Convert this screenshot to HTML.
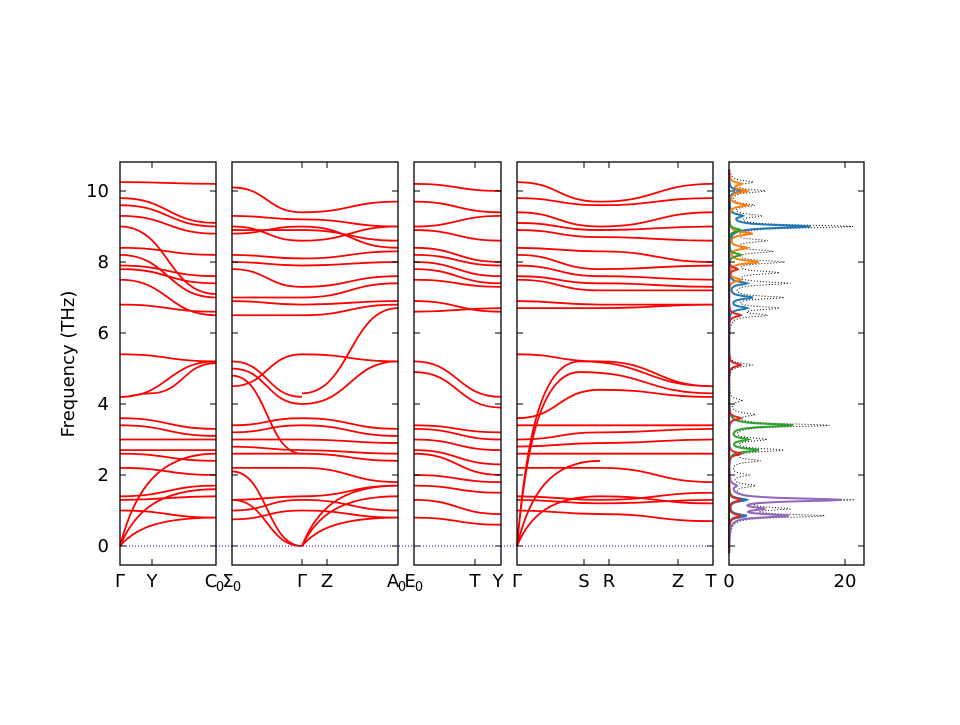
<!DOCTYPE html>
<html><head><meta charset="utf-8"><style>
body{margin:0;background:#fff;}
svg text{font-family:"DejaVu Sans","Liberation Sans",sans-serif;font-size:18px;fill:#000;}
</style></head><body>
<svg id="s" width="960" height="720" xmlns="http://www.w3.org/2000/svg">
<rect width="960" height="720" fill="#fff"/>
<g id="bands"></g>
<g id="dos"></g>
<g id="frames" fill="none" stroke="#000" stroke-width="1.3">
<rect x="120" y="162" width="96" height="403"/>
<rect x="232" y="162" width="166" height="403"/>
<rect x="414" y="162" width="87" height="403"/>
<rect x="517" y="162" width="196" height="403"/>
<rect x="729" y="162" width="135" height="403"/>
</g>
<g id="ticks" stroke="#000" stroke-width="1"></g>
<g text-anchor="end">
<text x="109" y="552">0</text><text x="109" y="481">2</text><text x="109" y="410">4</text>
<text x="109" y="339">6</text><text x="109" y="268">8</text><text x="109" y="197">10</text>
</g>
<text transform="translate(74,364) rotate(-90)" text-anchor="middle">Frequency (THz)</text>
<g text-anchor="middle">
<text x="120" y="587">Γ</text><text x="152" y="587">Y</text><text x="211" y="587">C</text><text x="220" y="591" style="font-size:13px">0</text>
<text x="228" y="587">Σ</text><text x="237" y="591" style="font-size:13px">0</text>
<text x="302" y="587">Γ</text><text x="327" y="587">Z</text><text x="393" y="587">A</text><text x="402" y="591" style="font-size:13px">0</text>
<text x="410" y="587">E</text><text x="419" y="591" style="font-size:13px">0</text>
<text x="475" y="587">T</text><text x="498" y="587">Y</text>
<text x="517" y="587">Γ</text><text x="584" y="587">S</text><text x="609" y="587">R</text><text x="678" y="587">Z</text><text x="711" y="587">T</text>
<text x="729" y="587">0</text><text x="845" y="587">20</text>
</g>
</svg>
<script>
const NS="http://www.w3.org/2000/svg";
const Y=f=>546-35.5*f;
function el(p,n,a){const e=document.createElementNS(NS,n);for(const k in a)e.setAttribute(k,a[k]);p.appendChild(e);return e;}
const B=document.getElementById('bands');
function seg(x0,x1,a,b,shape){
  let d;
  if(shape==='ac'){ // acoustic sqrt-like rise
    d=`M${x0} ${Y(a)} C${x0+(x1-x0)*0.15} ${Y(b*0.6)},${x0+(x1-x0)*0.4} ${Y(b)},${x1} ${Y(b)}`;
  }else{
    const m=(x1-x0)/2;
    d=`M${x0} ${Y(a)} C${x0+m} ${Y(a)},${x1-m} ${Y(b)},${x1} ${Y(b)}`;
  }
  el(B,'path',{d,fill:'none',stroke:'#f00','stroke-width':1.8});
}
// panel definitions: [x0,x1,pairs]
const common=[10.25,9.8,9.6,9.3,9.0,8.4,8.2,7.9,7.8,7.5,6.8,5.4,3.6,3.4,3.0,2.7,2.6,2.2,1.4,1.3,1.0];
const p1e=[10.2,9.1,9.0,8.8,7.1,8.2,7.0,7.6,7.4,6.5,6.6,5.2,3.3,3.1,3.0,2.7,2.4,2.0,1.7,1.4,0.8];
common.forEach((f,i)=>seg(120,216,f,p1e[i]));
seg(120,216,4.2,5.2);seg(120,150,4.2,4.3);seg(150,216,4.3,5.15);
seg(120,216,0,2.6,'ac');seg(120,216,0,1.6,'ac');seg(120,216,0,0.8,'ac');
// panel2 left Σ0->Γ(302) and Γ->A0
const p2a=[10.1,9.3,9.0,8.9,8.8,8.2,8.0,7.8,7.0,6.9,6.5,4.5,3.4,3.2,3.0,2.8,2.6,2.2,1.3,1.0,0.75];
const p2g=[9.4,9.2,8.6,8.9,9.0,8.1,7.9,7.3,7.0,6.8,6.5,5.4,3.6,3.4,3.0,2.7,2.6,2.2,1.4,1.3,1.0];
p2a.forEach((f,i)=>seg(232,302,f,p2g[i]));
seg(232,302,5.2,4.2);seg(232,302,5.0,4.0);seg(232,302,4.8,2.6);seg(232,302,2.1,0,'x');seg(232,302,1.3,0);
const p2e=[9.7,9.0,9.0,8.6,8.4,8.3,8.0,7.6,7.4,6.9,6.8,5.2,3.3,3.1,2.9,2.6,2.4,1.8,1.7,1.0,0.8];
p2g.forEach((f,i)=>seg(302,398,f,p2e[i]));
seg(302,398,4.0,5.2);seg(302,398,4.3,6.7);seg(302,398,0,1.7,'ac');seg(302,398,0,1.4,'ac');seg(302,398,0,0.8,'ac');
// panel3
const p3a=[10.2,9.7,9.0,8.9,8.4,8.2,8.0,7.8,7.5,6.9,6.6,5.2,4.9,3.4,3.3,3.0,2.7,2.6,2.0,1.7,1.3,0.8];
const p3b=[10.0,9.4,9.3,8.6,8.0,7.9,7.6,7.4,7.3,6.6,6.7,4.2,3.9,3.2,3.0,2.7,2.3,2.0,1.8,1.5,0.9,0.6];
p3a.forEach((f,i)=>seg(414,501,f,p3b[i]));
// panel4
const p4a=[10.25,9.8,9.4,9.1,8.9,8.4,8.2,7.9,7.6,7.5,6.9,6.7,5.4,3.6,3.4,3.0,2.8,2.6,2.2,1.4,1.3,1.0];
const p4s=[9.7,9.6,9.0,8.9,8.7,8.3,7.8,7.6,7.4,7.2,6.8,6.7,5.2,4.4,3.4,3.2,2.9,2.6,2.2,1.3,1.2,0.9];
const p4e=[10.2,9.8,9.4,9.0,8.6,8.0,7.9,7.5,7.3,7.2,6.8,6.8,4.5,4.2,3.4,3.3,3.0,2.6,1.8,1.5,1.3,0.7];
p4a.forEach((f,i)=>{seg(517,600,f,p4s[i]);seg(600,713,p4s[i],p4e[i]);});
seg(517,580,0,5.2,'ac');seg(580,713,5.2,4.5);seg(517,580,0,4.9,'ac');seg(580,713,4.9,4.3);
seg(517,600,0,2.4,'ac');seg(517,600,0,1.4,'ac');seg(600,713,1.4,1.2);
// zero line
el(B,'line',{x1:120,x2:713,y1:546,y2:546,stroke:'#00f','stroke-width':1,'stroke-dasharray':'1,2'});
// DOS
const D=document.getElementById('dos');
function curve(peaks,scale,color,w,dash){
  let d='';
  for(let f=-0.2;f<=10.6;f+=0.02){
    let v=0;for(const [c,h,g] of peaks)v+=h*g*g/((f-c)*(f-c)+g*g);
    const x=729+5.8*v*scale;d+=(d?'L':'M')+x.toFixed(1)+' '+Y(f).toFixed(1);
  }
  el(D,'path',{d,fill:'none',stroke:color,'stroke-width':w,'stroke-dasharray':dash||''});
}
const gam=0.05;
const total=[[0.85,16,gam],[1.05,9,gam],[1.3,21,gam],[1.7,4,gam],[2.0,3,gam],[2.4,5,gam],[2.7,9,gam],[3.0,6,gam],[3.4,17,gam],[3.7,4,gam],[4.1,2,gam],[5.1,4,gam],[6.5,6,gam],[6.7,8,gam],[7.0,9,gam],[7.4,10,gam],[7.7,8,gam],[8.0,9,gam],[8.3,7,gam],[8.6,6,gam],[9.0,21,gam],[9.3,5,gam],[9.6,4,gam],[10.0,6,gam],[10.25,4,gam]];
curve(total,1,'#000',1,'1,2');
curve([[0.85,3,gam],[1.3,3,gam],[6.7,3,gam],[7.0,4,gam],[7.4,3,gam],[9.0,14,gam],[9.3,2,gam],[10.0,2,gam]],1,'#1f77b4',2);
curve([[8.0,5,gam],[8.4,3,gam],[8.8,4,gam],[9.6,3,gam],[10.0,3,gam],[10.2,2,gam],[7.5,2,gam]],1,'#ff7f0e',2);
curve([[2.7,5,gam],[3.0,3,gam],[3.4,11,gam],[8.2,2,gam],[8.9,2,gam]],1,'#2ca02c',2);
curve([[0.85,2,gam],[1.3,2,gam],[2.6,2,gam],[3.6,2,gam],[5.1,2,gam],[6.5,2,gam],[7.8,1.5,gam]],1,'#d62728',2);
curve([[0.85,10,gam],[1.05,5,gam],[1.3,19,gam],[1.7,1,gam]],1,'#9467bd',2);
// ticks
const T=document.getElementById('ticks');
const panels=[[120,216,[120,152,216]],[232,398,[232,302,327,398]],[414,501,[414,475,501]],[517,713,[517,584,609,678,713]],[729,864,[729,845]]];
panels.forEach(([a,b,xs])=>{
  for(let f=0;f<=10;f+=2){const y=Y(f);el(T,'line',{x1:a,x2:a+6,y1:y,y2:y});el(T,'line',{x1:b,x2:b-6,y1:y,y2:y});}
  xs.forEach(x=>{el(T,'line',{x1:x,x2:x,y1:565,y2:559});el(T,'line',{x1:x,x2:x,y1:162,y2:168});});
});
</script>
</body></html>
